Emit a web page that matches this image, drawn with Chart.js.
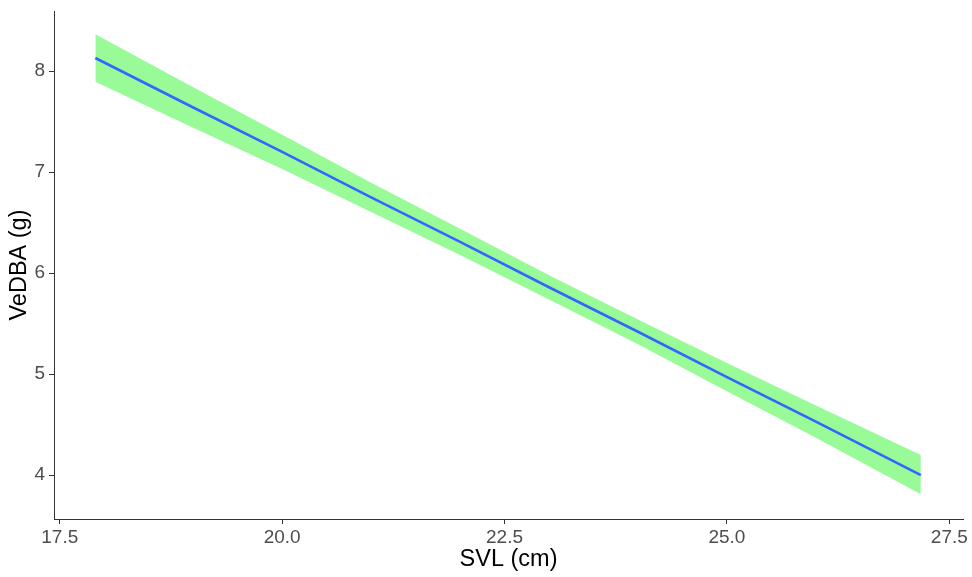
<!DOCTYPE html>
<html>
<head>
<meta charset="utf-8">
<title>VeDBA vs SVL</title>
<script src="https://cdn.jsdelivr.net/npm/chart.js@4.4.1/dist/chart.umd.min.js"></script>
<style>
  html, body { margin: 0; padding: 0; background: #fff; }
  #wrap { width: 972px; height: 577px; }
</style>
</head>
<body>
<div id="wrap"><canvas id="smoothChart" width="972" height="577"></canvas></div>
<script>
// fitted line and confidence band read along SVL
const svl = [17.9, 19, 20, 21, 22, 23, 24, 25, 26, 27.18];
const fit = [8.13, 7.64, 7.20, 6.75, 6.31, 5.86, 5.42, 4.97, 4.53, 4.00];
const lower = [7.895, 7.44, 7.03, 6.605, 6.18, 5.74, 5.295, 4.83, 4.37, 3.81];
const upper = [8.365, 7.84, 7.37, 6.895, 6.44, 5.98, 5.54, 5.11, 4.69, 4.20];

const xTicks = [17.5, 20.0, 22.5, 25.0, 27.5];
const yTicks = [4, 5, 6, 7, 8];

function pts(ys) {
  return svl.map((x, i) => ({ x: x, y: ys[i] }));
}

const fontFamily = "'Liberation Sans', Arial, sans-serif";
const axisColor = "#333333";
const tickColor = "#4D4D4D";

const ctx = document.getElementById("smoothChart").getContext("2d");

new Chart(ctx, {
  type: "line",
  data: {
    datasets: [
      {
        label: "lower",
        data: pts(lower),
        borderWidth: 0,
        pointRadius: 0,
        fill: false,
        order: 2
      },
      {
        label: "upper",
        data: pts(upper),
        borderWidth: 0,
        pointRadius: 0,
        backgroundColor: "#98FB98",
        fill: "-1",
        order: 1
      },
      {
        label: "fit",
        data: pts(fit),
        borderColor: "#3366FF",
        borderWidth: 2.6,
        pointRadius: 0,
        fill: false,
        order: 0
      }
    ]
  },
  options: {
    responsive: false,
    animation: false,
    layout: { padding: { top: 11, right: 9, bottom: 0, left: 0 } },
    plugins: {
      legend: { display: false },
      tooltip: { enabled: false }
    },
    scales: {
      x: {
        type: "linear",
        min: 17.435,
        max: 27.654,
        afterBuildTicks: (axis) => { axis.ticks = xTicks.map(v => ({ value: v })); },
        afterFit: (axis) => {
          axis.height = 58;
          axis.paddingLeft = 0;
          axis.paddingRight = 0;
        },
        grid: { drawOnChartArea: false, tickLength: 5, color: axisColor, lineWidth: 1 },
        border: { color: axisColor, width: 1 },
        ticks: {
          color: tickColor,
          padding: 2,
          font: { family: fontFamily, size: 19 },
          callback: (v) => Number(v).toFixed(1)
        },
        title: {
          display: true,
          text: "SVL (cm)",
          color: "#000",
          font: { family: fontFamily, size: 23.5 },
          padding: { top: 0, bottom: 3 }
        }
      },
      y: {
        type: "linear",
        min: 3.566,
        max: 8.595,
        afterBuildTicks: (axis) => { axis.ticks = yTicks.map(v => ({ value: v })); },
        afterFit: (axis) => {
          axis.width = 54;
          axis.paddingTop = 0;
          axis.paddingBottom = 0;
        },
        grid: { drawOnChartArea: false, tickLength: 5, color: axisColor, lineWidth: 1 },
        border: { color: axisColor, width: 1 },
        ticks: {
          color: tickColor,
          padding: 4,
          font: { family: fontFamily, size: 19 },
          callback: (v) => String(v)
        },
        title: {
          display: true,
          text: "VeDBA (g)",
          color: "#000",
          font: { family: fontFamily, size: 23.5 },
          padding: { top: 5, bottom: 0 }
        }
      }
    }
  }
});
</script>
</body>
</html>
